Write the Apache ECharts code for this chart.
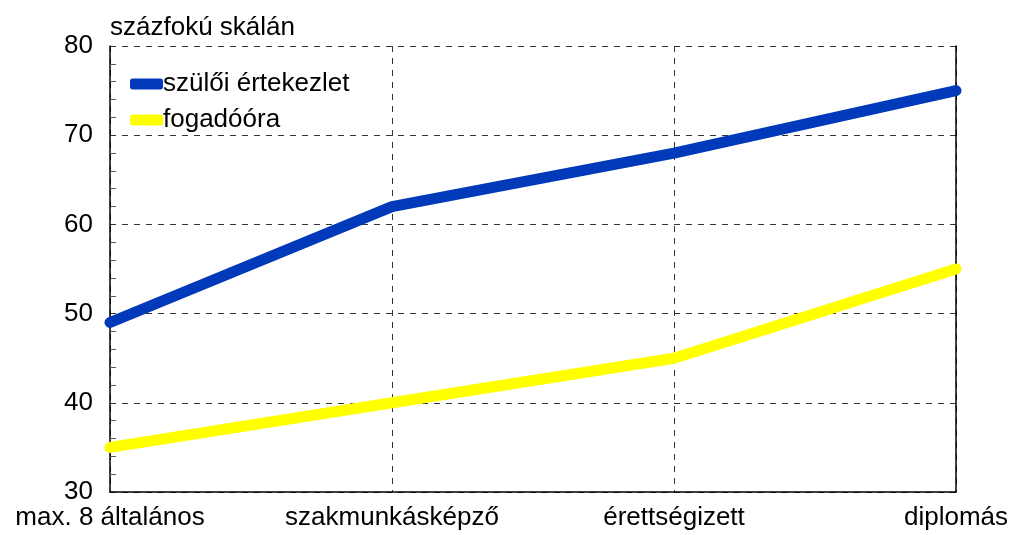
<!DOCTYPE html>
<html><head><meta charset="utf-8">
<script src="https://cdn.jsdelivr.net/npm/echarts@6/dist/echarts.min.js"></script>
<style>html,body{margin:0;padding:0;background:#fff}#c{width:1013px;height:535px}</style>
</head><body><div id="c"></div>
<script>
const categories = ['max. 8 általános', 'szakmunkásképző', 'érettségizett', 'diplomás'];
const szuloiErtekezlet = [49, 62, 68, 75];
const fogadoora = [35, 40, 45, 55];
const yTitle = 'százfokú skálán';

const font = '"Liberation Sans", Arial, sans-serif';
const fs = 26;
const chart = echarts.init(document.getElementById('c'));
chart.setOption({
  animation: false,
  backgroundColor: '#fff',
  grid: { left: 110, right: 57, top: 46, bottom: 43 },
  title: { text: yTitle, left: 105, top: 10, textStyle: { fontFamily: font, fontSize: fs, fontWeight: 'normal', color: '#000' } },
  legend: {
    orient: 'vertical', left: 125, top: 66, itemWidth: 33, itemHeight: 11, itemGap: 10,
    icon: 'roundRect',
    textStyle: { fontFamily: font, fontSize: fs, color: '#000', padding: [0,0,0,-5] },
    data: ['szülői értekezlet', 'fogadóóra']
  },
  xAxis: {
    type: 'category', data: categories, boundaryGap: false,
    axisLine: { lineStyle: { color: '#000', width: 1.5 } },
    axisTick: { show: false },
    axisLabel: { fontFamily: font, fontSize: fs, color: '#000', margin: 13, interval: 0 },
    splitLine: { show: true, lineStyle: { color: '#333', type: [6, 6], width: 1 } }
  },
  yAxis: [{
    type: 'value', min: 30, max: 80, interval: 10,
    axisLine: { show: true, lineStyle: { color: '#000', width: 1.5 } },
    axisTick: { show: false, inside: true },
    minorTick: { show: true, splitNumber: 5, length: 6, lineStyle: { color: '#555' } },
    axisLabel: { fontFamily: font, fontSize: fs, color: '#000', margin: 17 },
    splitLine: { show: true, lineStyle: { color: '#333', type: [6, 6], width: 1 } }
  }, {
    type: 'value', min: 30, max: 80, interval: 10, position: 'right',
    axisLine: { show: true, lineStyle: { color: '#000', width: 1.5 } },
    axisTick: { show: false }, axisLabel: { show: false }, splitLine: { show: false }
  }],
  series: [
    { name: 'szülői értekezlet', type: 'line', data: szuloiErtekezlet, showSymbol: false, symbol: 'none',
      color: '#0039B9', lineStyle: { width: 11, color: '#0039B9', cap: 'round', join: 'round' } },
    { name: 'fogadóóra', type: 'line', data: fogadoora, showSymbol: false, symbol: 'none',
      color: '#FFFF00', lineStyle: { width: 11, color: '#FFFF00', cap: 'round', join: 'round' } }
  ]
});
</script></body></html>
